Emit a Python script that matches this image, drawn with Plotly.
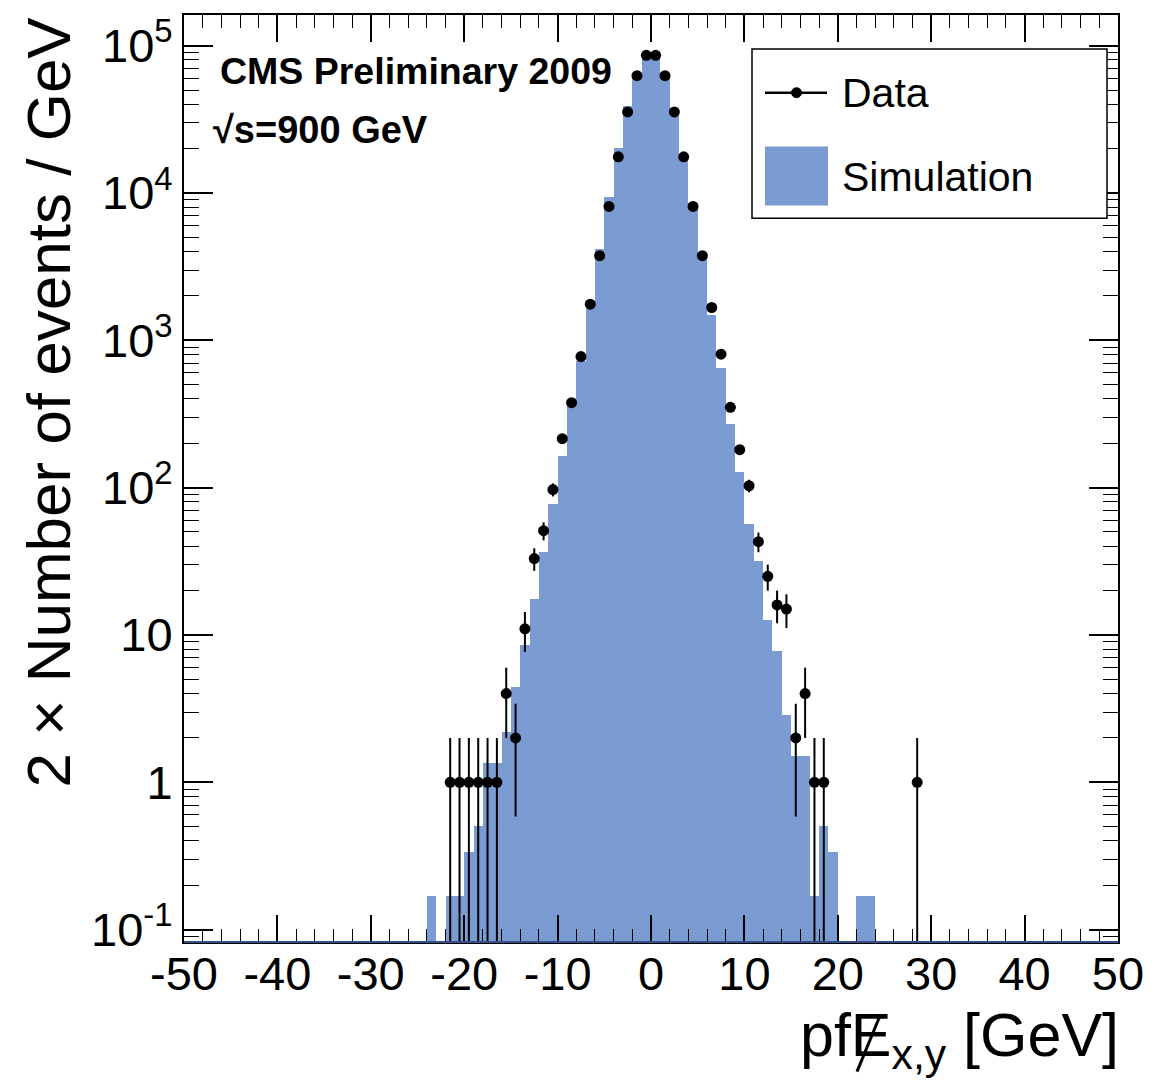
import numpy as np
import plotly.graph_objects as go

# ---------------- data ----------------
sim_x = [-23.5, -21.5, -20.5, -19.5, -18.5, -17.5, -16.5, -15.5, -14.5, -13.5,
         -12.5, -11.5, -10.5, -9.5, -8.5, -7.5, -6.5, -5.5, -4.5, -3.5,
         -2.5, -1.5, -0.5, 0.5, 1.5, 2.5, 3.5, 4.5, 5.5, 6.5,
         7.5, 8.5, 9.5, 10.5, 11.5, 12.5, 13.5, 14.5, 15.5, 16.5,
         17.5, 18.5, 19.5, 22.5, 23.5]
sim_y = [0.168, 0.168, 0.168, 0.339, 0.508, 1.35, 1.35, 2.21, 4.43, 8.6,
         17.6, 36.5, 77.4, 164, 358, 720, 1850, 4150, 9400, 20200,
         39200, 62500, 85000, 85000, 62000, 37000, 18500, 8600, 3650, 1490,
         647, 272, 128, 56.4, 31.6, 12.7, 7.8, 2.86, 1.51, 1.51,
         0.168, 0.508, 0.339, 0.168, 0.168]

data_x = [-21.5, -20.5, -19.5, -18.5, -17.5, -16.5, -15.5, -14.5, -13.5, -12.5,
          -11.5, -10.5, -9.5, -8.5, -7.5, -6.5, -5.5, -4.5, -3.5, -2.5,
          -1.5, -0.5, 0.5, 1.5, 2.5, 3.5, 4.5, 5.5, 6.5, 7.5,
          8.5, 9.5, 10.5, 11.5, 12.5, 13.5, 14.5, 15.5, 16.5, 17.5,
          18.5, 28.5]
data_y = [1, 1, 1, 1, 1, 1, 4, 2, 11, 33,
          51, 97, 215, 377, 776, 1760, 3750, 8100, 17600, 35500,
          62500, 86000, 86000, 62500, 35500, 17600, 8100, 3750, 1670, 805,
          351, 181, 103, 43, 25, 16, 15, 2, 4, 1,
          1, 1]

x_ticks = [-50, -40, -30, -20, -10, 0, 10, 20, 30, 40, 50]
x_ticktext = ["-50", "-40", "-30", "-20", "-10", "0", "10", "20", "30", "40", "50"]
y_ticks = [0.1, 1, 10, 100, 1000, 10000, 100000]
y_ticktext = ["10<sup>-1</sup>", "1", "10", "10<sup>2</sup>", "10<sup>3</sup>",
              "10<sup>4</sup>", "10<sup>5</sup>"]

SIM_COLOR = "#7b9bd3"
W, H = 1168, 1082
L, R, T, B = 184, 50, 12, 140

dy = np.sqrt(np.array(data_y, dtype=float))
dy_lo = np.array(data_y) - np.maximum(np.array(data_y) - dy, 0.01)

fig = go.Figure()
fig.add_trace(go.Bar(x=sim_x, y=sim_y, width=1.0, marker=dict(color=SIM_COLOR, line=dict(width=0)),
                     name="Simulation", showlegend=False))
fig.add_trace(go.Scatter(x=data_x, y=data_y, mode="markers", name="Data", showlegend=False,
                         marker=dict(color="black", size=11),
                         error_y=dict(type="data", symmetric=False, array=dy, arrayminus=dy_lo,
                                      color="black", thickness=2, width=0)))

font_main = "Liberation Sans, Arial, Helvetica, sans-serif"

minor_y = [k * 10.0 ** e for e in range(-2, 6) for k in range(2, 10)]

fig.update_layout(
    width=W, height=H,
    margin=dict(l=L, r=R, t=T, b=B),
    paper_bgcolor="white", plot_bgcolor="white",
    bargap=0,
    showlegend=False,
    font=dict(family=font_main, color="black"),
    xaxis=dict(range=[-50, 50], tickvals=x_ticks, ticktext=x_ticktext, ticks="inside", ticklen=27,
               tickwidth=1.5, tickcolor="black", showline=True, linecolor="black", linewidth=2,
               mirror="ticks", showgrid=False, zeroline=False, ticklabelstandoff=-10,
               tickfont=dict(size=47, family=font_main),
               minor=dict(ticks="inside", ticklen=13, dtick=2, tick0=0, tickcolor="black",
                          tickwidth=1.2, showgrid=False)),
    yaxis=dict(type="log", range=[-1.084, 5.208], tickvals=y_ticks, ticktext=y_ticktext,
               ticks="inside", ticklen=29, tickwidth=1.5, tickcolor="black",
               showline=True, linecolor="black", linewidth=2, mirror="ticks",
               showgrid=False, zeroline=False, tickfont=dict(size=47, family=font_main),
               minor=dict(ticks="inside", ticklen=15, tickvals=minor_y, tickcolor="black",
                          tickwidth=1.2, showgrid=False)),
)

pw, ph = W - L - R, H - T - B


def px(xp):
    return (xp - L) / pw


def py(yp):
    return (H - B - yp) / ph


shapes = []
# histogram baseline (navy) along the bottom of the frame
shapes.append(dict(type="line", xref="paper", yref="paper", x0=0, x1=1, y0=0, y1=0,
                   line=dict(color="#34508a", width=2), layer="above"))
# legend box
shapes.append(dict(type="rect", xref="paper", yref="paper", x0=px(752), x1=px(1107), y0=py(216), y1=py(46),
                   line=dict(color="black", width=1.5), fillcolor="white", layer="above"))
shapes.append(dict(type="line", xref="paper", yref="paper", x0=px(765), x1=px(827), y0=py(90), y1=py(90),
                   line=dict(color="black", width=2.5), layer="above"))
shapes.append(dict(type="circle", xref="paper", yref="paper", x0=px(791.5), x1=px(801.5), y0=py(95), y1=py(85),
                   line=dict(color="black", width=1), fillcolor="black", layer="above"))
shapes.append(dict(type="rect", xref="paper", yref="paper", x0=px(765), x1=px(828), y0=py(203), y1=py(144),
                   line=dict(width=0), fillcolor=SIM_COLOR, layer="above"))
# slash across the E of the x-axis title (missing transverse energy notation)
shapes.append(dict(type="line", xref="paper", yref="paper", x0=px(857), x1=px(880), y0=py(1072), y1=py(1016),
                   line=dict(color="black", width=3), layer="above"))
fig.update_layout(shapes=shapes)

ann = []
ann.append(dict(xref="paper", yref="paper", x=px(840), y=py(90), xanchor="left", yanchor="middle",
                text="Data", showarrow=False, font=dict(size=41, family=font_main)))
ann.append(dict(xref="paper", yref="paper", x=px(840), y=py(175), xanchor="left", yanchor="middle",
                text="Simulation", showarrow=False, font=dict(size=41, family=font_main)))
ann.append(dict(xref="paper", yref="paper", x=px(218), y=py(68), xanchor="left", yanchor="middle",
                text="<b>CMS Preliminary 2009</b>", showarrow=False, font=dict(size=37.5, family=font_main)))
ann.append(dict(xref="paper", yref="paper", x=px(211), y=py(127), xanchor="left", yanchor="middle",
                text="<b>\u221As=900 GeV</b>", showarrow=False, font=dict(size=38, family=font_main)))
ann.append(dict(xref="paper", yref="paper", x=px(48), y=py(12), xanchor="center", yanchor="top",
                textangle=-90, text="2 \u00d7 Number of events / GeV", showarrow=False,
                font=dict(size=62, family=font_main)))
ann.append(dict(xref="paper", yref="paper", x=px(1121), y=py(1040), xanchor="right", yanchor="middle",
                text="pfE<sub>x,y</sub> [GeV]", showarrow=False,
                font=dict(size=61, family=font_main)))
fig.update_layout(annotations=ann)

fig.write_html("out.html")
